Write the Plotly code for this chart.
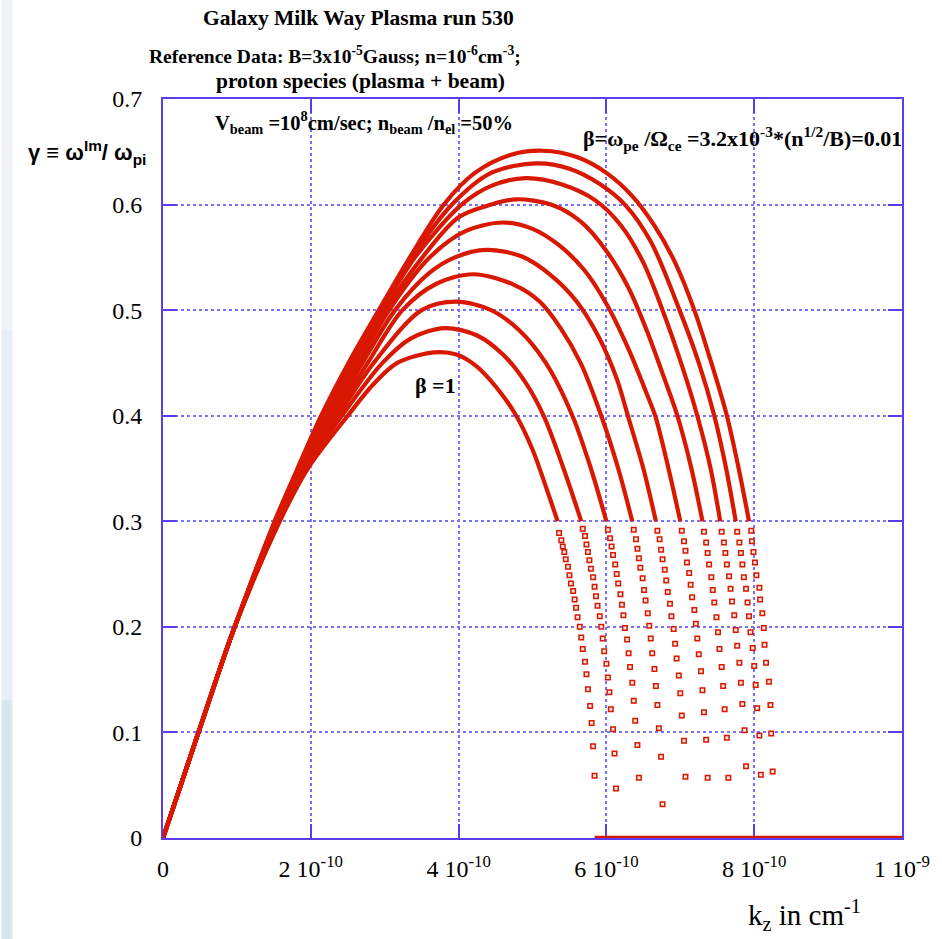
import plotly.graph_objects as go

# ---- growth-rate curves gamma(k_z); k_z in units of 1e-10 cm^-1 ----
# Curve 1 (beta = 1, lowest peak) ... curve 10 (beta = 0.01, highest peak)
# Continuous part of each curve (densely sampled)
K1 = [0, 0.48, 0.97, 1.58, 1.96, 2.5, 2.85, 3.17, 3.67, 3.97, 4.24, 4.51, 4.78, 5.0, 5.18, 5.34]
G1 = [0, 0.1, 0.2, 0.3, 0.35, 0.4, 0.43, 0.45, 0.46, 0.458, 0.447, 0.427, 0.4, 0.368, 0.333, 0.3]
K2 = [0, 0.48, 0.97, 1.57, 1.93, 2.42, 2.97, 3.35, 3.81, 4.25, 4.6, 4.9, 5.15, 5.42, 5.66]
G2 = [0, 0.1, 0.2, 0.3, 0.35, 0.4, 0.45, 0.473, 0.483, 0.476, 0.458, 0.432, 0.4, 0.35, 0.3]
K3 = [0, 0.48, 0.97, 1.56, 1.91, 2.37, 2.85, 3.5, 3.97, 4.44, 4.82, 5.18, 5.54, 5.79, 6.0]
G3 = [0, 0.1, 0.2, 0.3, 0.35, 0.4, 0.45, 0.5, 0.508, 0.5, 0.481, 0.45, 0.4, 0.35, 0.3]
K4 = [0, 0.48, 0.97, 1.55, 1.89, 2.33, 2.77, 3.24, 3.7, 4.2, 4.75, 5.1, 5.38, 5.65, 5.93, 6.16, 6.35]
G4 = [0, 0.1, 0.2, 0.3, 0.35, 0.4, 0.45, 0.5, 0.525, 0.534, 0.524, 0.508, 0.483, 0.45, 0.4, 0.35, 0.3]
K5 = [0, 0.48, 0.97, 1.55, 1.87, 2.29, 2.70, 3.14, 3.6, 3.95, 4.38, 4.85, 5.25, 5.6, 5.9, 6.15, 6.29, 6.5, 6.67]
G5 = [0, 0.1, 0.2, 0.3, 0.35, 0.4, 0.45, 0.5, 0.535, 0.55, 0.557, 0.551, 0.533, 0.508, 0.474, 0.433, 0.4, 0.35, 0.3]
K6 = [0, 0.48, 0.97, 1.54, 1.86, 2.25, 2.65, 3.06, 3.61, 4.1, 4.6, 5.0, 5.35, 5.7, 6.0, 6.3, 6.55, 6.66, 6.84, 7.0]
G6 = [0, 0.1, 0.2, 0.3, 0.35, 0.4, 0.45, 0.5, 0.55, 0.575, 0.583, 0.577, 0.562, 0.538, 0.506, 0.463, 0.42, 0.4, 0.35, 0.3]
K7 = [0, 0.48, 0.97, 1.53, 1.85, 2.22, 2.61, 3.01, 3.51, 4.0, 4.44, 4.78, 5.25, 5.65, 6.0, 6.3, 6.55, 6.76, 6.96, 7.15, 7.3]
G7 = [0, 0.1, 0.2, 0.3, 0.35, 0.4, 0.45, 0.5, 0.55, 0.588, 0.6, 0.605, 0.6, 0.584, 0.556, 0.521, 0.48, 0.44, 0.4, 0.35, 0.3]
K8 = [0, 0.48, 0.97, 1.52, 1.84, 2.19, 2.57, 2.97, 3.41, 4.04, 4.45, 4.91, 5.4, 5.85, 6.2, 6.5, 6.76, 7.02, 7.23, 7.41, 7.54]
G8 = [0, 0.1, 0.2, 0.3, 0.35, 0.4, 0.45, 0.5, 0.55, 0.6, 0.618, 0.625, 0.619, 0.604, 0.58, 0.545, 0.5, 0.448, 0.4, 0.35, 0.3]
K9 = [0, 0.48, 0.97, 1.52, 1.83, 2.17, 2.54, 2.94, 3.37, 3.91, 4.44, 5.05, 5.5, 5.9, 6.25, 6.6, 6.99, 7.25, 7.46, 7.62, 7.75]
G9 = [0, 0.1, 0.2, 0.3, 0.35, 0.4, 0.45, 0.5, 0.55, 0.6, 0.63, 0.639, 0.634, 0.62, 0.6, 0.565, 0.5, 0.45, 0.4, 0.35, 0.3]
K10 = [0, 0.48, 0.97, 1.51, 1.82, 2.14, 2.51, 2.92, 3.34, 3.8, 4.22, 4.7, 5.14, 5.6, 6.0, 6.35, 6.65, 6.93, 7.19, 7.42, 7.63, 7.79, 7.93]
G10 = [0, 0.1, 0.2, 0.3, 0.35, 0.4, 0.45, 0.5, 0.55, 0.6, 0.63, 0.647, 0.651, 0.645, 0.63, 0.608, 0.58, 0.545, 0.5, 0.45, 0.4, 0.35, 0.3]

# Sparse tails of each curve (individual solver points)
TK1 = [5.36, 5.39, 5.41, 5.43, 5.45, 5.48, 5.50, 5.52, 5.55, 5.57, 5.59, 5.61, 5.64, 5.66, 5.68, 5.71, 5.73, 5.75, 5.78, 5.80, 5.82, 5.84]
TG1 = [0.289, 0.282, 0.276, 0.271, 0.264, 0.257, 0.249, 0.241, 0.234, 0.226, 0.218, 0.209, 0.200, 0.190, 0.179, 0.167, 0.155, 0.141, 0.125, 0.109, 0.087, 0.059]
TK2 = [5.68, 5.71, 5.73, 5.75, 5.77, 5.79, 5.82, 5.84, 5.86, 5.88, 5.91, 5.93, 5.95, 5.97, 6.00, 6.02, 6.04, 6.06, 6.09, 6.11, 6.13]
TG2 = [0.293, 0.286, 0.278, 0.271, 0.263, 0.255, 0.247, 0.238, 0.229, 0.220, 0.210, 0.200, 0.189, 0.177, 0.165, 0.152, 0.138, 0.122, 0.103, 0.080, 0.047]
TK3 = [6.02, 6.05, 6.07, 6.09, 6.12, 6.14, 6.16, 6.19, 6.21, 6.23, 6.25, 6.28, 6.30, 6.32, 6.35, 6.37, 6.39, 6.42, 6.44]
TG3 = [0.292, 0.284, 0.276, 0.268, 0.259, 0.250, 0.241, 0.231, 0.221, 0.211, 0.199, 0.188, 0.175, 0.162, 0.147, 0.130, 0.111, 0.088, 0.057]
TK4 = [6.37, 6.40, 6.42, 6.44, 6.46, 6.49, 6.51, 6.53, 6.56, 6.58, 6.60, 6.62, 6.65, 6.67, 6.69, 6.71, 6.74, 6.76]
TG4 = [0.292, 0.283, 0.274, 0.265, 0.256, 0.246, 0.235, 0.225, 0.213, 0.201, 0.189, 0.175, 0.160, 0.144, 0.126, 0.104, 0.077, 0.032]
TK5 = [6.69, 6.72, 6.74, 6.76, 6.79, 6.81, 6.83, 6.86, 6.88, 6.91, 6.93, 6.95, 6.98, 7.00, 7.02, 7.05, 7.07]
TG5 = [0.291, 0.283, 0.273, 0.264, 0.254, 0.244, 0.233, 0.222, 0.210, 0.198, 0.184, 0.170, 0.154, 0.137, 0.116, 0.092, 0.058]
TK6 = [7.02, 7.05, 7.07, 7.09, 7.12, 7.14, 7.16, 7.19, 7.21, 7.23, 7.25, 7.28, 7.30, 7.32, 7.35, 7.37]
TG6 = [0.291, 0.281, 0.272, 0.261, 0.251, 0.240, 0.228, 0.216, 0.203, 0.189, 0.174, 0.158, 0.140, 0.119, 0.093, 0.057]
TK7 = [7.32, 7.35, 7.37, 7.39, 7.42, 7.44, 7.46, 7.49, 7.51, 7.53, 7.56, 7.58, 7.60, 7.63, 7.65]
TG7 = [0.290, 0.280, 0.270, 0.259, 0.247, 0.235, 0.223, 0.209, 0.195, 0.179, 0.162, 0.144, 0.122, 0.095, 0.057]
TK8 = [7.56, 7.59, 7.61, 7.63, 7.66, 7.68, 7.70, 7.73, 7.75, 7.77, 7.80, 7.82, 7.84, 7.87, 7.89]
TG8 = [0.290, 0.280, 0.270, 0.259, 0.248, 0.236, 0.224, 0.211, 0.197, 0.182, 0.166, 0.147, 0.127, 0.102, 0.068]
TK9 = [7.77, 7.80, 7.82, 7.84, 7.86, 7.89, 7.91, 7.93, 7.95, 7.98, 8.00, 8.02, 8.04, 8.07, 8.09]
TG9 = [0.290, 0.280, 0.270, 0.259, 0.247, 0.236, 0.223, 0.210, 0.195, 0.180, 0.163, 0.145, 0.123, 0.097, 0.060]
TK10 = [7.96, 7.97, 7.99, 8.01, 8.03, 8.07, 8.08, 8.11, 8.13, 8.14, 8.16, 8.20, 8.22, 8.23, 8.25]
TG10 = [0.291, 0.281, 0.271, 0.261, 0.249, 0.237, 0.226, 0.213, 0.199, 0.183, 0.166, 0.148, 0.126, 0.099, 0.063]

# Stable region: gamma = 0 beyond the last unstable k
ZERO_K = [5.84, 10.0]
ZERO_G = [0.0, 0.0]

# Axis ticks
X_TICKS = [0, 2, 4, 6, 8, 10]
X_LABELS = ["0", "2 10<sup>-10</sup>", "4 10<sup>-10</sup>", "6 10<sup>-10</sup>",
            "8 10<sup>-10</sup>", "1 10<sup>-9</sup>"]
Y_TICKS = [0, 0.1, 0.2, 0.3, 0.4, 0.5, 0.6, 0.7]
Y_LABELS = ["0", "0.1", "0.2", "0.3", "0.4", "0.5", "0.6", "0.7"]

RED = "#d81800"
BLUE = "#5b3cf0"
GRID = "#7a70ff"
SERIF = "Liberation Serif"
SANS = "Liberation Sans"

W, H = 942, 939
L, R, T, B = 163, 33, 99, 101


def px(x):
    return (x - L) / (W - L - R)


def py(y):
    return (H - B - y) / (H - T - B)


smooth = [(K1, G1), (K2, G2), (K3, G3), (K4, G4), (K5, G5),
          (K6, G6), (K7, G7), (K8, G8), (K9, G9), (K10, G10)]
tails = [(TK1, TG1), (TK2, TG2), (TK3, TG3), (TK4, TG4), (TK5, TG5),
         (TK6, TG6), (TK7, TG7), (TK8, TG8), (TK9, TG9), (TK10, TG10)]

fig = go.Figure()
for k, g in smooth:
    fig.add_trace(go.Scatter(
        x=k, y=g, mode="lines",
        line=dict(color=RED, width=4.2, shape="spline", smoothing=0.9),
        hoverinfo="skip", showlegend=False))
for k, g in tails:
    fig.add_trace(go.Scatter(
        x=k, y=g, mode="markers",
        marker=dict(symbol="square", size=4.5, color="#ffe4e0",
                    line=dict(color=RED, width=1.5)),
        hoverinfo="skip", showlegend=False))

axis_common = dict(
    ticks="inside", ticklen=14, tickwidth=2, tickcolor=BLUE,
    showline=True, linecolor=BLUE, linewidth=2, mirror="ticks",
    showgrid=True, gridcolor=GRID, griddash="dot", gridwidth=1.5,
    zeroline=False, tickfont=dict(family=SERIF, size=24, color="black"),
)

fig.update_layout(
    width=W, height=H, autosize=False,
    margin=dict(l=L, r=R, t=T, b=B),
    paper_bgcolor="white", plot_bgcolor="white",
    xaxis=dict(range=[0, 10], tickvals=X_TICKS, ticktext=X_LABELS,
               ticklabelstandoff=8, **axis_common),
    yaxis=dict(range=[0, 0.7], tickvals=Y_TICKS, ticktext=Y_LABELS,
               ticklabelstandoff=14, **axis_common),
)

# light backdrop strip along the left edge of the page
strip = [(0, 330, "#edf3f7"), (330, 700, "#e6eff3"), (700, 939, "#d7e7ec")]
shapes = []
for y0, y1, col in strip:
    shapes.append(dict(type="rect", xref="paper", yref="paper",
                       x0=px(0), x1=px(11), y0=py(y1), y1=py(y0),
                       fillcolor=col, line=dict(width=0), layer="below"))
shapes.append(dict(type="line", xref="x", yref="y",
                   x0=ZERO_K[0], x1=ZERO_K[1], y0=ZERO_G[0], y1=ZERO_G[1],
                   line=dict(color=RED, width=4.5), layer="above"))
fig.update_layout(shapes=shapes)


def note(text, x, y, size, family=SERIF, anchor="center"):
    fig.add_annotation(text=text, xref="paper", yref="paper",
                       x=px(x), y=py(y), xanchor=anchor, yanchor="middle",
                       showarrow=False,
                       font=dict(family=family, size=size, color="black"))


note("<b>Galaxy Milk Way Plasma run 530</b>", 360, 18, 21.5)
note("<b>Reference Data: B=3x10<sup>-5</sup>Gauss; n=10<sup>-6</sup>cm<sup>-3</sup>;</b>", 337, 55, 19.5)
note("<b>proton species (plasma + beam)</b>", 362, 81, 21.5)
note("<b>γ ≡ ω<sup>Im</sup>/ ω<sub>pi</sub></b>", 25, 152, 22, family=SANS, anchor="left")
note("<b>V<sub>beam</sub> =10<sup>8</sup>cm/sec; n<sub>beam</sub> /n<sub>el</sub> =50%</b>", 213, 123, 20.5, anchor="left")
note("<b>β=ω<sub>pe</sub> /Ω<sub>ce</sub> =3.2x10<sup>-3</sup>*(n<sup>1/2</sup>/B)=0.01</b>", 585, 138, 22, anchor="left")
note("<b>β =1</b>", 415, 385, 22, anchor="left")
note("k<sub>z</sub> in cm<sup>-1</sup>", 752, 915, 29, anchor="left")

fig.write_html("out.html")
